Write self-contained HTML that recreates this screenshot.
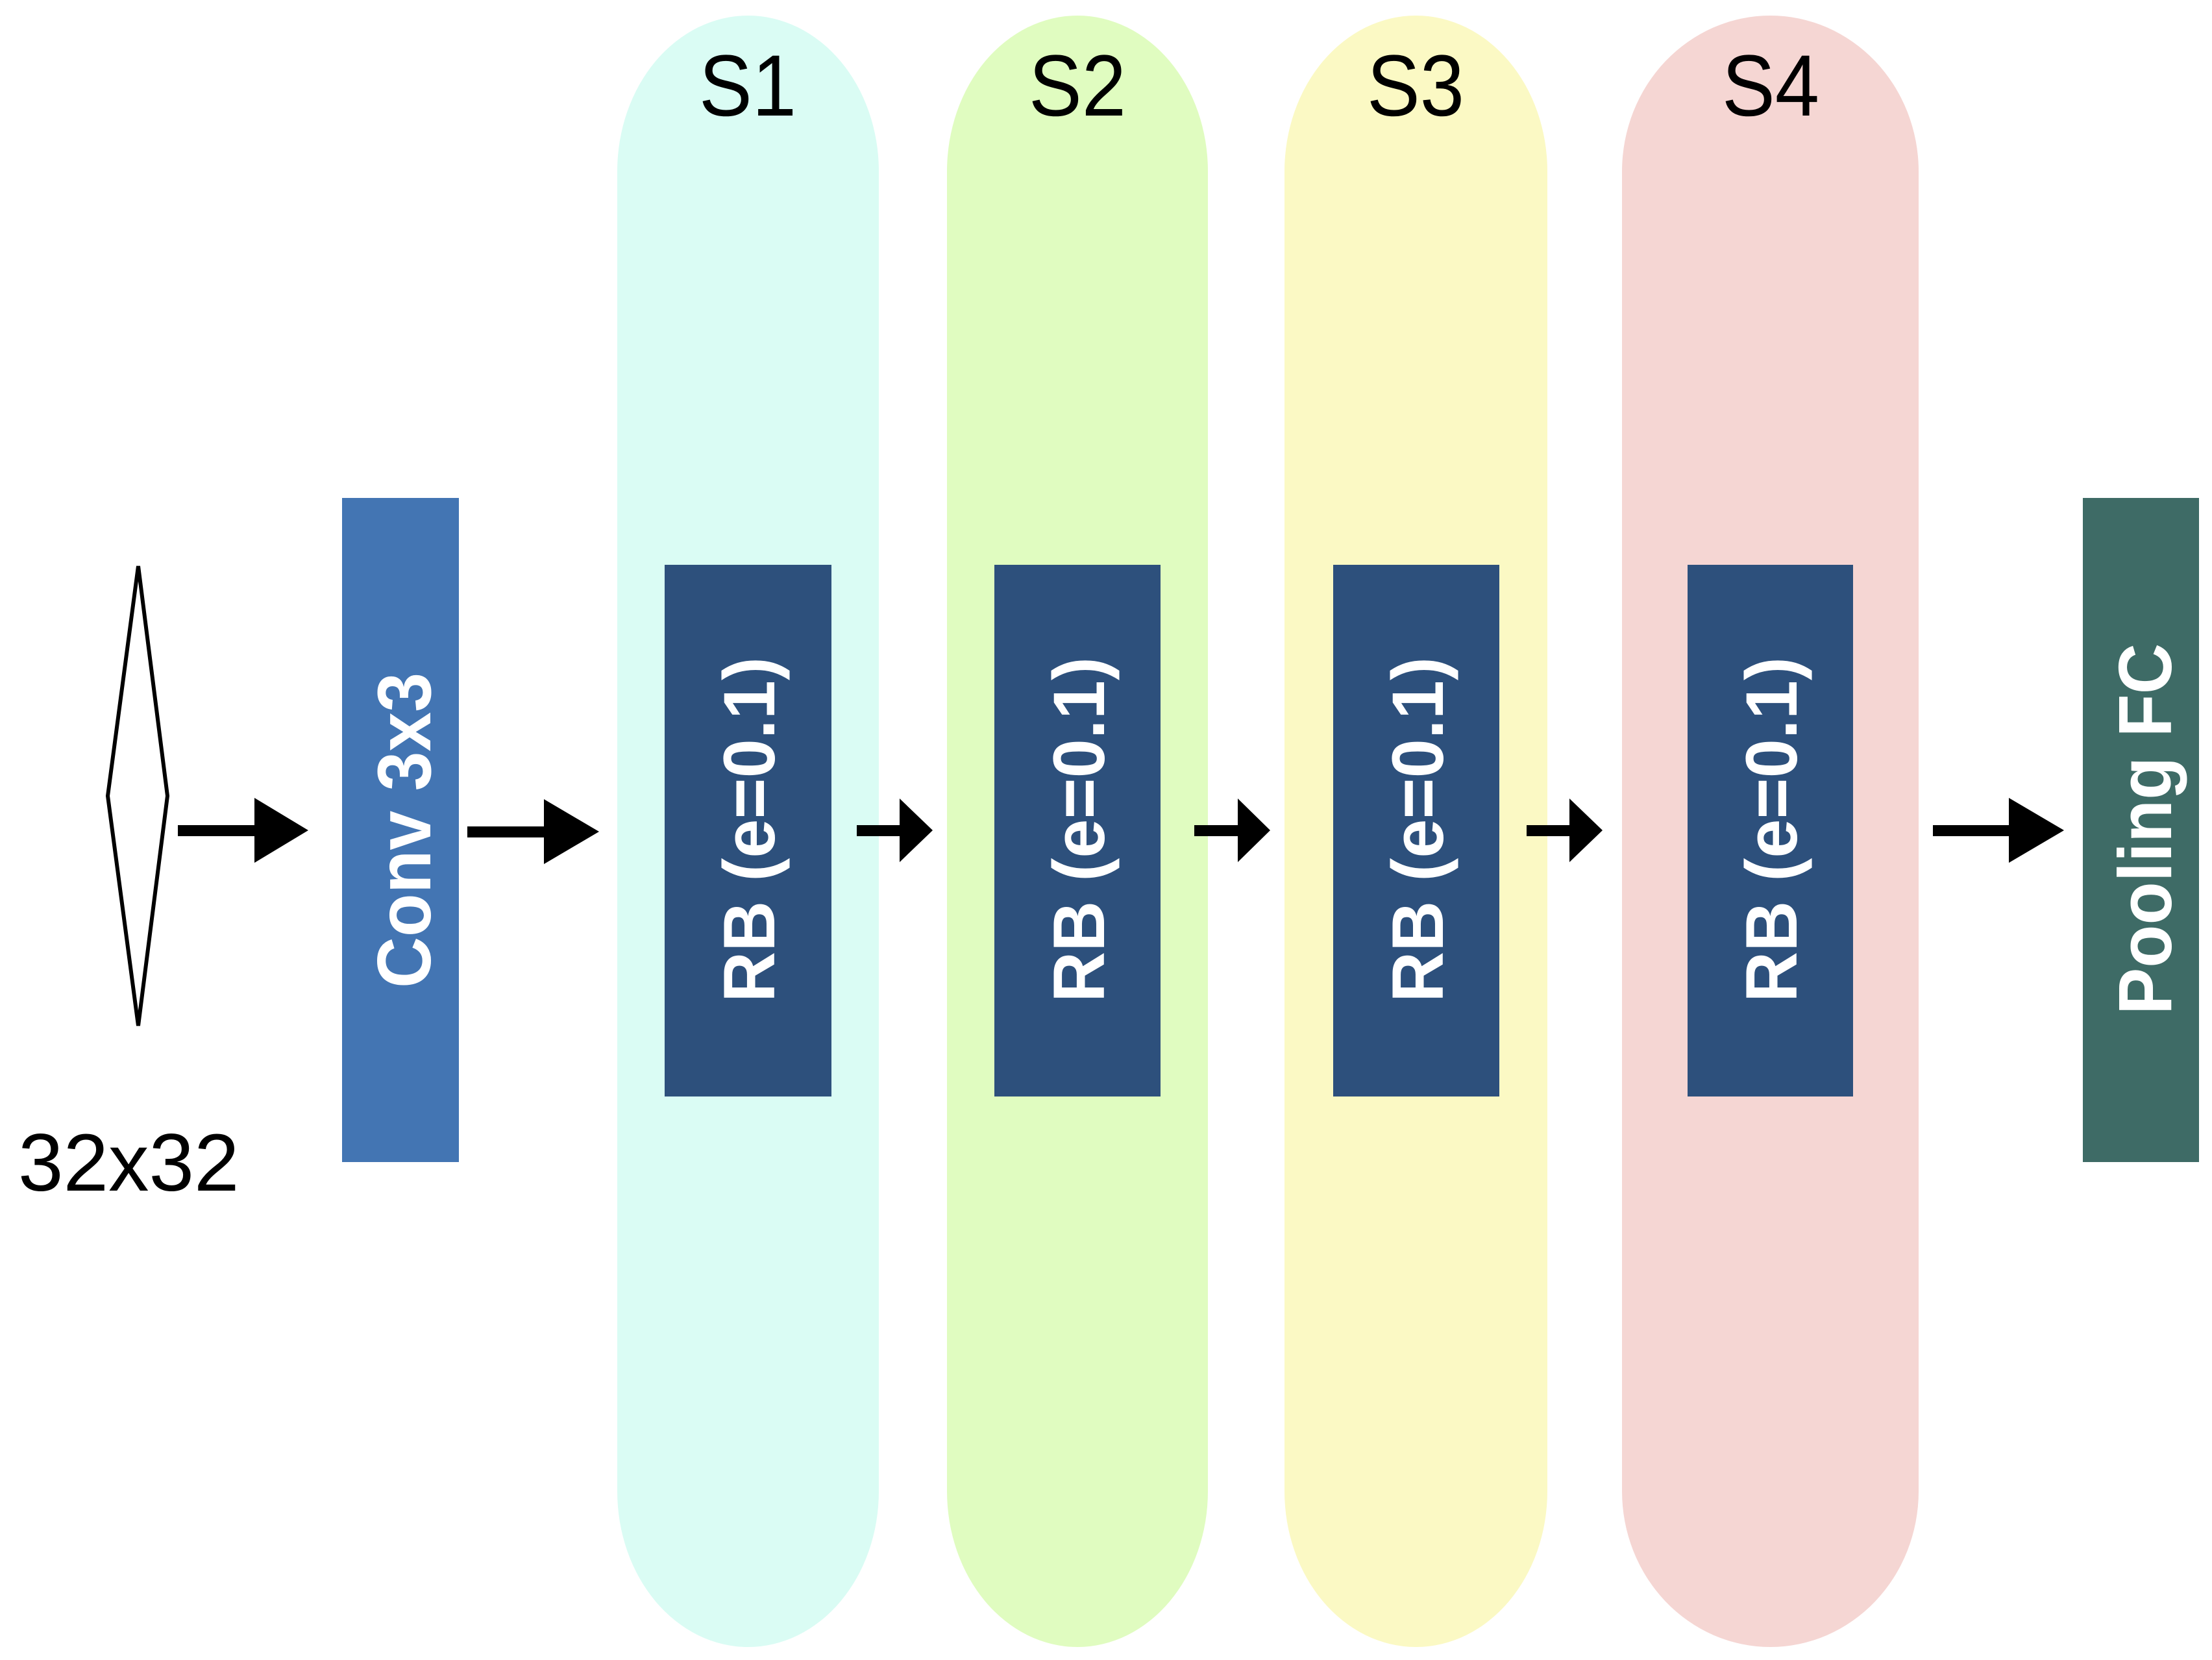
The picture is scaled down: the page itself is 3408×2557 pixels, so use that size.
<!DOCTYPE html>
<html><head><meta charset="utf-8"><style>
html,body{margin:0;padding:0;background:#fff;}
svg{display:block;}
text{font-family:"Liberation Sans",Arial,sans-serif;}
</style></head><body>
<svg width="3408" height="2557" viewBox="0 0 3408 2557" xmlns="http://www.w3.org/2000/svg">
<rect width="3408" height="2557" fill="#fff"/>
<!-- stages -->
<path d="M951,264 A201.5,240 0 0 1 1354,264 L1354,2297 A201.5,240 0 0 1 951,2297 Z" fill="#dafcf4"/>
<path d="M1459,264 A201,240 0 0 1 1861,264 L1861,2297 A201,240 0 0 1 1459,2297 Z" fill="#e0fcc0"/>
<path d="M1979,264 A202.5,240 0 0 1 2384,264 L2384,2297 A202.5,240 0 0 1 1979,2297 Z" fill="#fbf9c4"/>
<path d="M2499,264 A228.5,240 0 0 1 2956,264 L2956,2297 A228.5,240 0 0 1 2499,2297 Z" fill="#f5d6d3"/>
<g font-size="134" text-anchor="middle" fill="#000">
<text x="1152" y="178" textLength="150" lengthAdjust="spacingAndGlyphs">S1</text>
<text x="1660" y="178" textLength="150" lengthAdjust="spacingAndGlyphs">S2</text>
<text x="2181" y="178" textLength="150" lengthAdjust="spacingAndGlyphs">S3</text>
<text x="2728" y="178" textLength="150" lengthAdjust="spacingAndGlyphs">S4</text>
</g>
<!-- diamond -->
<polygon points="213,872 258,1226 213,1580 166,1226" fill="#fff" stroke="#000" stroke-width="6"/>
<text x="28" y="1834" font-size="125" fill="#000">32x32</text>
<!-- conv -->
<rect x="527" y="767" width="180" height="1023" fill="#4375b3"/>
<text transform="translate(663,1279) rotate(-90)" font-size="117" font-weight="bold" fill="#fff" text-anchor="middle" textLength="486" lengthAdjust="spacingAndGlyphs">Conv 3x3</text>
<!-- RB boxes -->
<g fill="#2d507c">
<rect x="1024" y="870" width="257" height="819"/>
<rect x="1532" y="870" width="256" height="819"/>
<rect x="2054" y="870" width="256" height="819"/>
<rect x="2600" y="870" width="255" height="819"/>
</g>
<g font-size="112" font-weight="bold" fill="#fff" text-anchor="middle">
<text transform="translate(1193,1278) rotate(-90)" textLength="532" lengthAdjust="spacingAndGlyphs">RB (e=0.1)</text>
<text transform="translate(1701,1278) rotate(-90)" textLength="532" lengthAdjust="spacingAndGlyphs">RB (e=0.1)</text>
<text transform="translate(2223,1278) rotate(-90)" textLength="532" lengthAdjust="spacingAndGlyphs">RB (e=0.1)</text>
<text transform="translate(2768,1278) rotate(-90)" textLength="532" lengthAdjust="spacingAndGlyphs">RB (e=0.1)</text>
</g>
<!-- pooling -->
<rect x="3209" y="767" width="179" height="1023" fill="#3e6b66"/>
<text transform="translate(3345,1277) rotate(-90)" font-size="116" font-weight="bold" fill="#fff" text-anchor="middle" textLength="572" lengthAdjust="spacingAndGlyphs">Pooling FC</text>
<!-- arrows -->
<g fill="#000">
<rect x="274" y="1271" width="120" height="17"/><polygon points="392,1229 475,1279 392,1329"/>
<rect x="720" y="1273" width="120" height="17"/><polygon points="838,1231 923,1281 838,1331"/>
<rect x="1320" y="1271" width="68" height="17"/><polygon points="1386,1230 1437,1279 1386,1328"/>
<rect x="1840" y="1271" width="69" height="17"/><polygon points="1907,1230 1957,1279 1907,1328"/>
<rect x="2352" y="1271" width="68" height="17"/><polygon points="2418,1230 2469,1279 2418,1328"/>
<rect x="2978" y="1271" width="119" height="17"/><polygon points="3095,1229 3180,1279 3095,1329"/>
</g>
</svg>
</body></html>
